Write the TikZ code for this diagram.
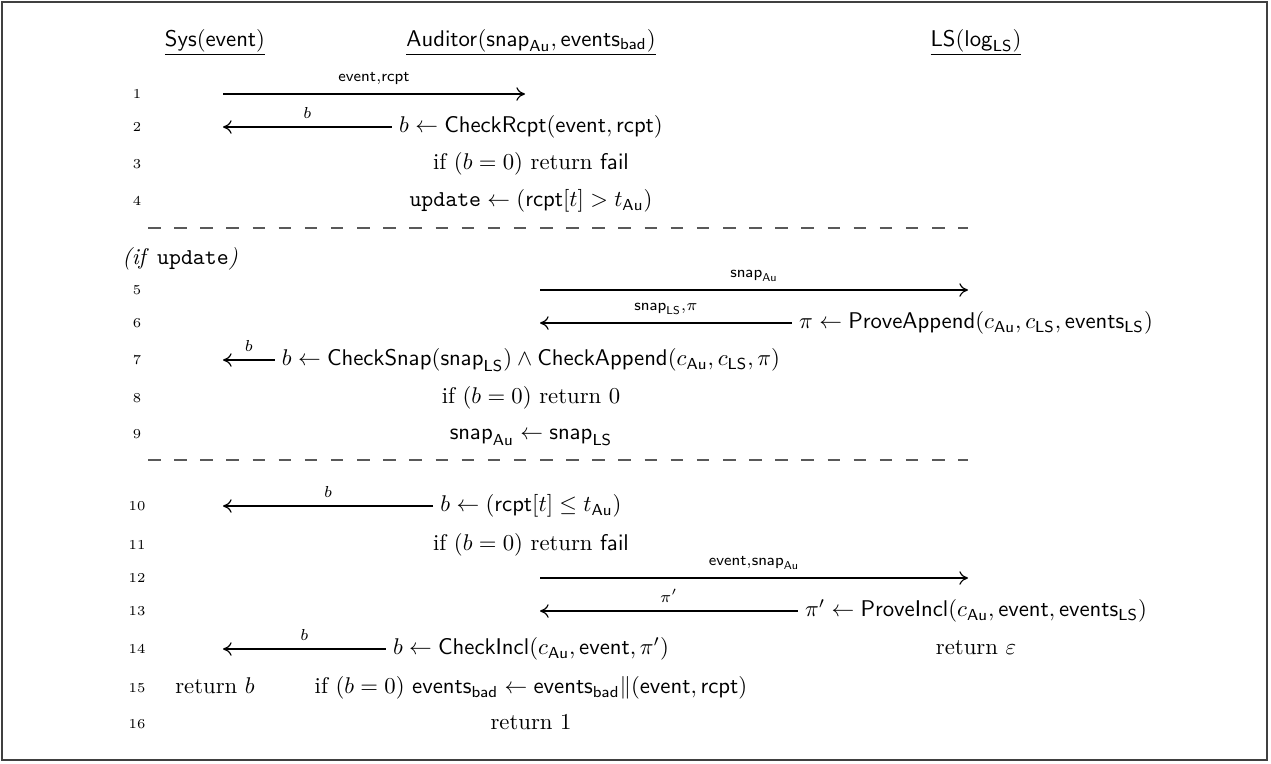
\documentclass[tikz,border=0pt]{standalone}
\usepackage{amsmath}
\usetikzlibrary{arrows.meta}
\begin{document}
\begin{tikzpicture}[x=0.44pt, y=-0.44pt,
    num/.style={font=\fontsize{6}{7}\selectfont},
    stmt/.style={inner xsep=3pt, inner ysep=0pt, text height=7.5pt, text depth=2.5pt},
    msg/.style={-{To[length=3.8pt, width=6pt]}, line width=0.5pt},
    lbl/.style={font=\scriptsize, anchor=base, inner sep=0pt, yshift=3.8pt},
    slbl/.style={font=\scriptsize, anchor=base, inner sep=0pt, yshift=5.5pt},
    sep/.style={dash pattern=on 5.5pt off 6pt, line width=0.5pt, black!65},
]

\def\xs{215}   % Sys column
\def\xa{531}   % Auditor column
\def\xl{976}   % LS column

\useasboundingbox (0,0) rectangle (1271,763);
\draw[line width=0.5pt, black!75] (2,2) rectangle (1267,760);

% headers
\node[anchor=base] (hsys) at (\xs,46) {$\underline{\mathsf{Sys}(\mathsf{event})}$};
\node[anchor=base] (haud) at (\xa,46) {$\underline{\mathsf{Auditor}(\mathsf{snap}_{\mathsf{Au}}, \mathsf{events}_{\mathsf{bad}})}$};
\node[anchor=base] (hls) at (\xl,46) {$\underline{\mathsf{LS}(\mathsf{log}_{\mathsf{LS}})}$};

% line numbers
\foreach \n/\y in {1/94, 2/127, 3/164, 4/201, 5/290, 6/323, 7/360, 8/398,
    9/434, 10/506, 11/545, 12/578, 13/611, 14/649, 15/688, 16/724}{
\node[num] (n\n) at (137,\y) {\n};
}

% first block
\coordinate (s1) at (223,94);
\coordinate (a1) at (525,94);
\draw[msg] (s1) -- node[slbl] {$\mathsf{event}{,}\mathsf{rcpt}$} (a1);

\node[stmt] (r2) at (\xa,127) {$b \gets \mathsf{CheckRcpt}(\mathsf{event}, \mathsf{rcpt})$};
\coordinate (s2) at (223,127);
\draw[msg] (r2.west) -- node[lbl] {$b$} (s2);

\node[stmt] (r3) at (\xa,164) {$\text{if } (b = 0) \text{ return } \mathsf{fail}$};
\node[stmt] (r4) at (\xa,201) {$\mathtt{update} \gets (\mathsf{rcpt}[t] > t_{\mathsf{Au}})$};

\coordinate (d1a) at (148,228);
\coordinate (d1b) at (968,228);
\draw[sep] (d1a) -- (d1b);

% update block
\node[anchor=west, inner sep=0pt] (cond) at (122,259) {\textit{(if }\texttt{update}\textit{)}};

\coordinate (a5) at (540,290);
\coordinate (l5) at (968,290);
\draw[msg] (a5) -- node[slbl] {$\mathsf{snap}_{\mathsf{Au}}$} (l5);

\node[stmt] (r6) at (\xl,323) {$\pi \gets \mathsf{ProveAppend}(c_{\mathsf{Au}}, c_{\mathsf{LS}}, \mathsf{events}_{\mathsf{LS}})$};
\coordinate (a6) at (540,323);
\draw[msg] (r6.west) -- node[slbl] {$\mathsf{snap}_{\mathsf{LS}}{,}\pi$} (a6);

\node[stmt] (r7) at (\xa,360) {$b \gets \mathsf{CheckSnap}(\mathsf{snap}_{\mathsf{LS}}) \land \mathsf{CheckAppend}(c_{\mathsf{Au}}, c_{\mathsf{LS}}, \pi)$};
\coordinate (s7) at (223,360);
\draw[msg] (r7.west) -- node[lbl] {$b$} (s7);

\node[stmt] (r8) at (\xa,398) {$\text{if } (b = 0) \text{ return } 0$};
\node[stmt] (r9) at (\xa,434) {$\mathsf{snap}_{\mathsf{Au}} \gets \mathsf{snap}_{\mathsf{LS}}$};

\coordinate (d2a) at (148,460);
\coordinate (d2b) at (968,460);
\draw[sep] (d2a) -- (d2b);

% last block
\node[stmt] (r10) at (\xa,506) {$b \gets (\mathsf{rcpt}[t] \leq t_{\mathsf{Au}})$};
\coordinate (s10) at (223,506);
\draw[msg] (r10.west) -- node[lbl] {$b$} (s10);

\node[stmt] (r11) at (\xa,545) {$\text{if } (b = 0) \text{ return } \mathsf{fail}$};

\coordinate (a12) at (540,578);
\coordinate (l12) at (968,578);
\draw[msg] (a12) -- node[slbl] {$\mathsf{event}{,}\mathsf{snap}_{\mathsf{Au}}$} (l12);

\node[stmt] (r13) at (\xl,611) {$\pi' \gets \mathsf{ProveIncl}(c_{\mathsf{Au}}, \mathsf{event}, \mathsf{events}_{\mathsf{LS}})$};
\coordinate (a13) at (540,611);
\draw[msg] (r13.west) -- node[lbl] {$\pi'$} (a13);

\node[stmt] (r14) at (\xa,649) {$b \gets \mathsf{CheckIncl}(c_{\mathsf{Au}}, \mathsf{event}, \pi')$};
\coordinate (s14) at (223,649);
\draw[msg] (r14.west) -- node[lbl] {$b$} (s14);
\node[stmt] (ls14) at (\xl,649) {$\text{return } \varepsilon$};

\node[stmt] (sys15) at (\xs,688) {$\text{return } b$};
\node[stmt] (r15) at (\xa,688) {$\text{if } (b = 0)\ \mathsf{events}_{\mathsf{bad}} \gets \mathsf{events}_{\mathsf{bad}} \| (\mathsf{event}, \mathsf{rcpt})$};

\node[stmt] (r16) at (\xa,724) {$\text{return } 1$};
\end{tikzpicture}
\end{document}
